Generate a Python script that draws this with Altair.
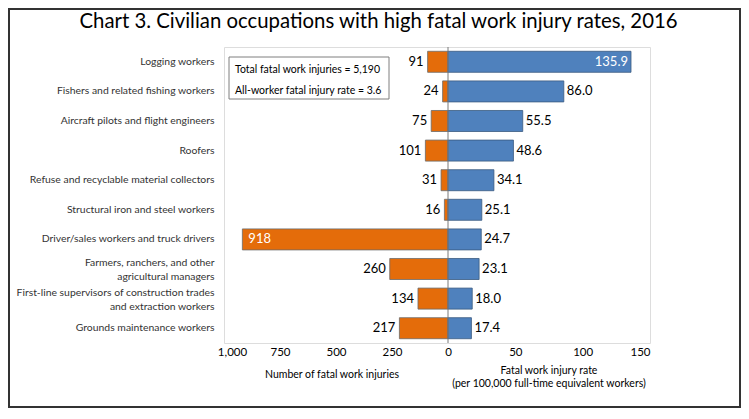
import altair as alt
import pandas as pd

# ---------------- data ----------------
occupations = [
    "Logging workers",
    "Fishers and related fishing workers",
    "Aircraft pilots and flight engineers",
    "Roofers",
    "Refuse and recyclable material collectors",
    "Structural iron and steel workers",
    "Driver/sales workers and truck drivers",
    "Farmers, ranchers, and other|agricultural managers",
    "First-line supervisors of construction trades|and extraction workers",
    "Grounds maintenance workers",
]
fatalities = [91, 24, 75, 101, 31, 16, 918, 260, 134, 217]
rates = [135.9, 86.0, 55.5, 48.6, 34.1, 25.1, 24.7, 23.1, 18.0, 17.4]
left_ticks = [1000, 750, 500, 250, 0]
right_ticks = [50, 100, 150]
box_lines = ["Total fatal work injuries = 5,190", "All-worker fatal injury rate = 3.6"]
title_text = "Chart 3. Civilian occupations with high fatal work injury rates, 2016"
left_axis_title = "Number of fatal work injuries"
right_axis_title = ["Fatal work injury rate", "(per 100,000 full-time equivalent workers)"]

# ---------------- layout ----------------
FONT = "Lato"
LEFT_MAX, RIGHT_MAX = 1000, 150
LEFT_PX, RIGHT_PX = 224, 202      # pixels given to each half of the plot
W = LEFT_PX + RIGHT_PX
H = 296
ORANGE = "#E46C0A"
BLUE = "#4F81BD"

df = pd.DataFrame({"occ": occupations, "count": fatalities, "rate": rates})
df["count_px"] = -df["count"] * LEFT_PX / LEFT_MAX
df["rate_px"] = df["rate"] * RIGHT_PX / RIGHT_MAX
df["count_lbl"] = df["count"].map(lambda v: f"{v:,}")
df["rate_lbl"] = df["rate"].map(lambda v: f"{v:.1f}")

tick_vals = [-t * LEFT_PX / LEFT_MAX for t in left_ticks] + [t * RIGHT_PX / RIGHT_MAX for t in right_ticks]
tick_vals[0] += 8  # keep the outermost label inside the frame, as in the source

label_expr = (
    f"datum.value < 0 ? format(round(-datum.value*{LEFT_MAX}/{LEFT_PX}/250)*250, ',') "
    f": format(round(datum.value*{RIGHT_MAX}/{RIGHT_PX}/50)*50, ',')"
)

xscale = alt.Scale(domain=[-LEFT_PX, RIGHT_PX], nice=False, zero=False)
xaxis = alt.Axis(
    title=None, values=tick_vals, labelExpr=label_expr, domain=False, ticks=False, grid=False,
    labelFontSize=11.5, labelColor="black", labelPadding=3, labelFont=FONT,
)
Y = alt.Y(
    "occ:N", sort=occupations,
    scale=alt.Scale(paddingInner=0.29, paddingOuter=0.145),
    axis=alt.Axis(
        title=None, labelExpr="split(datum.label, '|')", labelLineHeight=14, labelPadding=10,
        labelOffset={"condition": {"test": "indexof(datum.value, '|') >= 0", "value": -6}, "value": 0},
        labelFontSize=10.4, labelFont=FONT, labelColor="#333333", domain=False, ticks=False,
        labelLimit=300,
    ),
)

base = alt.Chart(df)

bars_left = base.mark_bar(color=ORANGE, stroke="#6b6b6b", strokeWidth=0.8).encode(
    x=alt.X("count_px:Q", scale=xscale, axis=xaxis), x2=alt.datum(0), y=Y
)
bars_right = base.mark_bar(color=BLUE, stroke="#3a5a80", strokeWidth=0.8).encode(
    x=alt.X("rate_px:Q", scale=xscale), x2=alt.datum(0), y=Y
)

one = alt.Data(values=[{"a": 1}])
zero_rule = alt.Chart(one).mark_rule(color="#7a7a7a", strokeWidth=1).encode(x=alt.datum(0))

lbl_kw = dict(fontSize=13, font=FONT, baseline="middle")
cnt_out = base.transform_filter(alt.datum["count"] < 600).mark_text(align="right", dx=-4, color="black", **lbl_kw).encode(
    x="count_px:Q", y=Y, text="count_lbl:N")
cnt_in = base.transform_filter(alt.datum["count"] >= 600).mark_text(align="left", dx=6, color="white", **lbl_kw).encode(
    x="count_px:Q", y=Y, text="count_lbl:N")
rate_out = base.transform_filter(alt.datum.rate < 120).mark_text(align="left", dx=3, color="black", **lbl_kw).encode(
    x="rate_px:Q", y=Y, text="rate_lbl:N")
rate_in = base.transform_filter(alt.datum.rate >= 120).mark_text(align="right", dx=-3, color="white", **lbl_kw).encode(
    x="rate_px:Q", y=Y, text="rate_lbl:N")

box = alt.Chart(one).mark_rect(fill="white", stroke="#7f7f7f", strokeWidth=1).encode(
    x=alt.value(5), x2=alt.value(165), y=alt.value(10), y2=alt.value(52))
txt_kw = dict(font=FONT, fontSize=10.5, color="black", baseline="middle")
box_t1 = alt.Chart(one).mark_text(text=box_lines[0], align="left", **txt_kw).encode(x=alt.value(11), y=alt.value(23))
box_t2 = alt.Chart(one).mark_text(text=box_lines[1], align="left", **txt_kw).encode(x=alt.value(11), y=alt.value(44))

ax_t1 = alt.Chart(one).mark_text(text=left_axis_title, align="center", **txt_kw).encode(x=alt.value(108), y=alt.value(327.5))
ax_t2 = alt.Chart(one).mark_text(text=right_axis_title[0], align="center", **txt_kw).encode(x=alt.value(325), y=alt.value(324))
ax_t3 = alt.Chart(one).mark_text(text=right_axis_title[1], align="center", **txt_kw).encode(x=alt.value(325), y=alt.value(337))

title = alt.Chart(one).mark_text(text=title_text, align="center", baseline="alphabetic", font=FONT,
                                 fontSize=20.35, color="black").encode(x=alt.value(154.5), y=alt.value(-19))

outer = alt.Chart(one).mark_rect(fill="transparent", stroke="#333333", strokeWidth=2).encode(
    x=alt.value(-215), x2=alt.value(516), y=alt.value(-38), y2=alt.value(360))

chart = alt.layer(
    bars_left, bars_right, zero_rule, cnt_out, cnt_in, rate_out, rate_in,
    box, box_t1, box_t2, ax_t1, ax_t2, ax_t3, title, outer,
).properties(
    width=W, height=H,
    padding={"left": 216, "top": 39, "right": 91, "bottom": 65},
    autosize=alt.AutoSizeParams(type="none"),
).configure_view(stroke="#a6a6a6", strokeWidth=1).configure(font=FONT)

chart.save("out.html", embed_options={"renderer": "svg", "actions": False})
